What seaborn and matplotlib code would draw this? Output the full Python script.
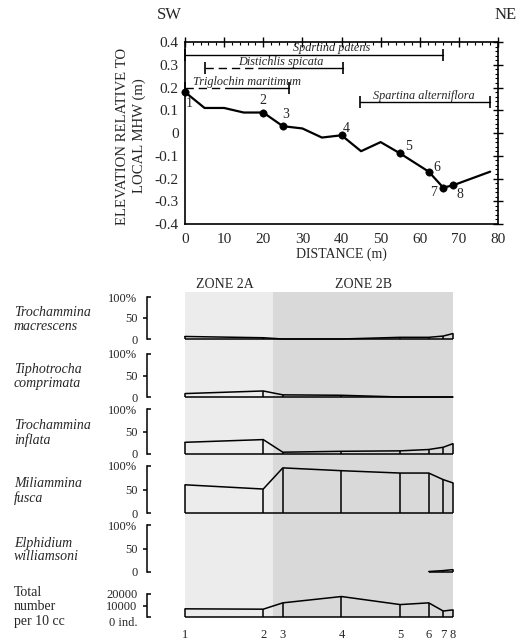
"""
Marsh elevation profile (SW-NE) with plant zones, and foraminiferal
assemblages (% of total) at the eight sampling stations underneath.
"""

import numpy as np
import pandas as pd
import seaborn as sns
import matplotlib.pyplot as plt
from matplotlib import ticker as mticker


########  data  ########

PROFILE_DIST = [0, 5, 10, 15, 20, 25, 30, 35, 40, 45, 50, 55, 62.3, 66, 68.5, 78]
PROFILE_ELEV = [0.18, 0.11, 0.11, 0.09, 0.09, 0.03, 0.02, -0.02, -0.01,
                -0.08, -0.04, -0.09, -0.17, -0.24, -0.23, -0.17]

STATIONS = ['1', '2', '3', '4', '5', '6', '7', '8']
STATION_DIST = [0, 20, 25, 40, 55, 62.3, 66, 68.5]
STATION_ELEV = [0.18, 0.09, 0.03, -0.01, -0.09, -0.17, -0.24, -0.23]

VEG_NAMES = ['Spartina patens', 'Distichlis spicata',
             'Triglochin maritimum', 'Spartina alterniflora']
VEG_START = [0, 5, 0, 44.7]        # first occurrence (dashed = sparse)
VEG_SOLID_FROM = [0, 20, 12, 44.7]  # start of continuous cover
VEG_END = [66, 40.5, 26.5, 78]
VEG_ELEV = [0.345, 0.284, 0.196, 0.135]

TAXA = ['Trochammina\nmacrescens', 'Tiphotrocha\ncomprimata',
        'Trochammina\ninflata', 'Miliammina\nfusca', 'Elphidium\nwilliamsoni']
PCT_MACRESCENS = [6, 3, 0, 0, 4, 4, 7, 13]
PCT_COMPRIMATA = [8, 14, 5, 4, 0, 0, 0, 0]
PCT_INFLATA = [26, 32, 4, 6, 7, 10, 15, 23]
PCT_FUSCA = [60, 51, 96, 90, 85, 85, 71, 64]
PCT_WILLIAMSONI = [np.nan, np.nan, np.nan, np.nan, np.nan, 1, 3, 5]
TOTAL_PER_10CC = [7100, 6800, 12300, 17800, 10800, 12300, 5200, 6200]

ZONES = ['ZONE 2A', 'ZONE 2B']
ZONE_EDGES = [0, 22.5, 68.5]


########  layout  ########

W, H = 521, 642
ZONE_COLORS = ['#ececec', '#d9d9d9']
VEG_LABEL_X = [37.5, 24.4, 15.9, 61.1]
VEG_LABEL_DY = 0.027
NUM_OFFSET = [(4, -11), (0, 12), (3, 12), (5, 7), (8, 7), (8, 4), (-10, -5), (7, -9)]
# pixel boxes (top, bottom) of the assemblage panels
PANEL_Y = [(297, 339), (354, 397), (409, 454), (466, 513), (525, 572)]
TOTAL_Y = (594, 617)
PANEL_X = (185, 453)


def rect(x0, x1, y0, y1):
    return [x0 / W, 1 - y1 / H, (x1 - x0) / W, (y1 - y0) / H]


sns.set_style('white')
plt.rcParams['font.family'] = ['Liberation Serif', 'DejaVu Serif']
plt.rcParams['axes.unicode_minus'] = False

fig = plt.figure(figsize=(W / 100, H / 100), dpi=100)


########  elevation profile  ########

ax = fig.add_axes(rect(185, 498, 42, 224))

sns.lineplot(x=PROFILE_DIST, y=PROFILE_ELEV, ax=ax, color='black', lw=1.6,
             sort=False)
sns.scatterplot(x=STATION_DIST, y=STATION_ELEV, ax=ax, color='black', s=28,
                edgecolor='black', zorder=3, clip_on=False)
for lab, x, y, off in zip(STATIONS, STATION_DIST, STATION_ELEV, NUM_OFFSET):
    ax.annotate(lab, (x, y), xytext=off, textcoords='offset pixels',
                ha='center', va='center', fontsize=10)

for name, x0, xs, x1, y, lx in zip(VEG_NAMES, VEG_START, VEG_SOLID_FROM,
                                   VEG_END, VEG_ELEV, VEG_LABEL_X):
    if xs > x0:
        ax.plot([x0, xs], [y, y], color='black', lw=1, ls=(0, (6, 3.5)))
    ax.plot([xs, x1], [y, y], color='black', lw=1)
    ax.plot([x0, x1], [y, y], ls='none', marker='|', ms=8, mew=1.2,
            color='black', clip_on=False)
    ax.text(lx, y + VEG_LABEL_DY, name, ha='center', va='center',
            fontsize=8.8, style='italic')

ax.set_xlim(0, 80)
ax.set_ylim(-0.4, 0.4)
ax.xaxis.set_major_locator(mticker.MultipleLocator(10))
ax.xaxis.set_minor_locator(mticker.MultipleLocator(2))
ax.yaxis.set_major_locator(mticker.MultipleLocator(0.1))
ax.yaxis.set_minor_locator(mticker.MultipleLocator(0.02))
ax.yaxis.set_major_formatter(mticker.FuncFormatter(
    lambda v, p: '0' if abs(v) < 1e-9 else f'{v:.1f}'))
ax.tick_params(which='major', direction='inout', length=7, width=1,
               top=True, right=True, labelsize=11, color='black')
ax.tick_params(which='minor', direction='in', length=2.5, width=0.8,
               top=True, right=True, color='black')
ax.tick_params(axis='x', which='major', pad=3)
ax.tick_params(axis='y', which='major', pad=1)
for s in ax.spines.values():
    s.set_color('black')
    s.set_linewidth(1.2)
ax.set_xlabel('DISTANCE (m)', fontsize=10, labelpad=1)
ax.set_ylabel('')

fig.text(131 / W, 1 - 136 / H, 'ELEVATION RELATIVE TO\nLOCAL MHW (m)',
         rotation=90, ha='center', va='center', fontsize=10.6,
         multialignment='center', linespacing=1.3)
fig.text(157 / W, 1 - 15 / H, 'SW', ha='left', va='center', fontsize=12)
fig.text(517 / W, 1 - 15 / H, 'NE', ha='right', va='center', fontsize=12)


########  assemblage panels  ########

bg = fig.add_axes(rect(PANEL_X[0], PANEL_X[1], 292, 617))
for i, z in enumerate(ZONES):
    bg.axvspan(ZONE_EDGES[i], ZONE_EDGES[i + 1], color=ZONE_COLORS[i], lw=0)
    bg.text((ZONE_EDGES[i] + ZONE_EDGES[i + 1]) / 2 - (1.0 if i == 0 else 0),
            1.003, z, transform=bg.get_xaxis_transform(), ha='center',
            va='bottom', fontsize=10)
bg.set_xlim(0, 68.5)
bg.set_ylim(0, 1)
bg.axis('off')


def draw_panel(ax, values, top):
    df = pd.DataFrame({'dist': STATION_DIST, 'val': values}).dropna()
    sns.lineplot(data=df, x='dist', y='val', ax=ax, color='black', lw=1.1,
                 sort=False)
    ax.vlines(df['dist'], 0, df['val'], color='black', lw=1.1)
    ax.hlines(0, df['dist'].min(), df['dist'].max(), color='black', lw=1.1)
    for a in ax.lines + ax.collections:
        a.set_clip_on(False)
    ax.set_xlim(0, 68.5)
    ax.set_ylim(0, top)
    ax.patch.set_visible(False)
    for k in ['top', 'right', 'bottom']:
        ax.spines[k].set_visible(False)
    ax.spines['left'].set_position(('outward', 38 * 0.72))
    ax.spines['left'].set_color('black')
    ax.spines['left'].set_linewidth(1.1)
    ax.set_xticks([])
    ax.set_xlabel('')
    ax.set_ylabel('')
    ax.tick_params(axis='y', which='major', direction='in', length=3,
                   width=1.1, pad=7, labelsize=9, left=True, color='black')
    ax.tick_params(axis='y', which='minor', direction='out', length=3,
                   width=1.1, pad=4, labelsize=9, left=True, color='black')


pct_series = [PCT_MACRESCENS, PCT_COMPRIMATA, PCT_INFLATA, PCT_FUSCA,
              PCT_WILLIAMSONI]
for taxon, vals, (y0, y1) in zip(TAXA, pct_series, PANEL_Y):
    pax = fig.add_axes(rect(PANEL_X[0], PANEL_X[1], y0, y1))
    draw_panel(pax, vals, 100)
    pax.set_yticks([0, 100])
    pax.set_yticklabels(['0', '100%'])
    pax.set_yticks([50], minor=True)
    pax.set_yticklabels(['50'], minor=True)
    fig.text(14 / W, 1 - ((y0 + y1) / 2 + 1.5) / H, taxon, ha='left',
             va='center', fontsize=10, style='italic', linespacing=1.1)

tax = fig.add_axes(rect(PANEL_X[0], PANEL_X[1], *TOTAL_Y))
draw_panel(tax, TOTAL_PER_10CC, 20000)
tax.set_yticks([0, 20000])
tax.set_yticklabels(['0 ind.', '20000'])
tax.set_yticks([10000], minor=True)
tax.set_yticklabels(['10000'], minor=True)
tax.get_yticklabels()[0].set_va('top')
tax.set_xticks(STATION_DIST)
tax.set_xticklabels(STATIONS)
tax.tick_params(axis='x', length=0, pad=9, labelsize=9)
fig.text(14 / W, 1 - 607 / H, 'Total\nnumber\nper 10 cc', ha='left',
         va='center', fontsize=10, linespacing=1.2)

plt.savefig('out.png', dpi=100)
plt.close()
